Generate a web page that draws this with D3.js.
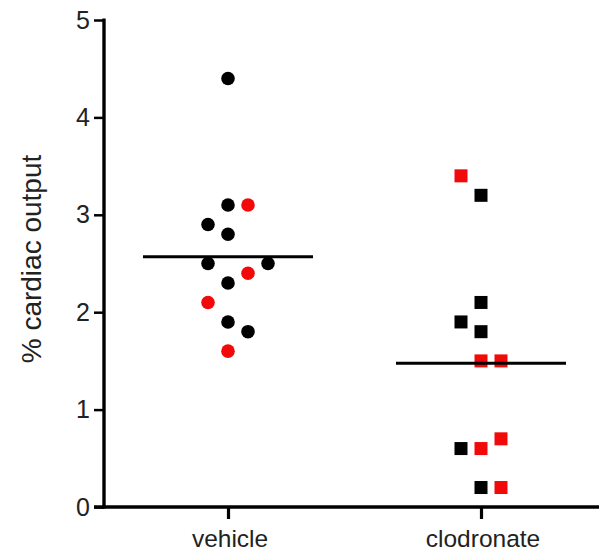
<!DOCTYPE html>
<html>
<head>
<meta charset="utf-8">
<script src="https://cdn.jsdelivr.net/npm/d3@7"></script>
<style>
html,body{margin:0;padding:0;background:#fff;}
svg{display:block;font-family:"Liberation Sans",Arial,sans-serif;}
</style>
</head>
<body>
<svg id="chart" width="599" height="552"></svg>
<script>
// ---- data ----
const categories = ["vehicle", "clodronate"];
const yTicks = [0, 1, 2, 3, 4, 5];
const yTitle = "% cardiac output";

const vehicleValues = [4.4, 3.1, 3.1, 2.9, 2.8, 2.5, 2.5, 2.4, 2.3, 2.1, 1.9, 1.8, 1.6];
const vehicleGroup  = ["k", "k", "r", "k", "k", "k", "k", "r", "k", "r", "k", "k", "r"];
const vehicleColumn = [0, 0, 1, -1, 0, -1, 2, 1, 0, -1, 0, 1, 0];

const clodronateValues = [3.4, 3.2, 2.1, 1.9, 1.8, 1.5, 1.5, 0.7, 0.6, 0.6, 0.2, 0.2];
const clodronateGroup  = ["r", "k", "k", "k", "k", "r", "r", "r", "k", "r", "k", "r"];
const clodronateColumn = [-1, 0, 0, -1, 0, 0, 1, 1, -1, 0, 0, 1];

// ---- layout ----
const svg = d3.select("#chart");
const xLeft = 104, xRight = 599, yTop = 20, yBottom = 507;
const colors = { k: "#000000", r: "#f20a0a" };
const colStep = 20;
const fontFam = "'Liberation Sans', Arial, sans-serif";

const y = d3.scaleLinear().domain([0, 5]).range([yBottom, yTop]);
const x = d3.scalePoint().domain(categories).range([228, 481]);

// y axis
const yAxis = svg.append("g").attr("transform", `translate(${xLeft},0)`)
  .call(d3.axisLeft(y).tickValues(yTicks).tickFormat(d3.format("d")).tickSize(10).tickPadding(4).tickSizeOuter(0));
yAxis.select(".domain").remove();
yAxis.selectAll(".tick line").attr("stroke", "#000").attr("stroke-width", 2.5);
yAxis.selectAll(".tick text").attr("font-size", 25).attr("fill", "#222")
  .attr("font-family", fontFam);
svg.append("line").attr("x1", xLeft).attr("x2", xLeft).attr("y1", y(5) - 1.5).attr("y2", yBottom + 1.5)
  .attr("stroke", "#000").attr("stroke-width", 3.4);

// x axis
const xAxis = svg.append("g").attr("transform", `translate(0,${yBottom})`)
  .call(d3.axisBottom(x).tickSize(12).tickPadding(11).tickSizeOuter(0));
xAxis.select(".domain").remove();
xAxis.selectAll(".tick line").attr("stroke", "#000").attr("stroke-width", 3.2);
xAxis.selectAll(".tick text").attr("font-size", 24.5).attr("fill", "#222")
  .attr("font-family", fontFam)
  .attr("dx", 1.5);
svg.append("line").attr("x1", xLeft - 10).attr("x2", xRight).attr("y1", yBottom).attr("y2", yBottom)
  .attr("stroke", "#000").attr("stroke-width", 3.4);

// y title
svg.append("text")
  .attr("transform", `translate(41,259) rotate(-90)`)
  .attr("text-anchor", "middle")
  .attr("font-size", 28)
  .attr("fill", "#222")
  .attr("font-family", fontFam)
  .text(yTitle);

// points
const vehicle = vehicleValues.map((v, i) => ({ v, g: vehicleGroup[i], c: vehicleColumn[i] }));
const clod = clodronateValues.map((v, i) => ({ v, g: clodronateGroup[i], c: clodronateColumn[i] }));

svg.append("g").selectAll("circle").data(vehicle).join("circle")
  .attr("cx", d => x("vehicle") + d.c * colStep)
  .attr("cy", d => y(d.v))
  .attr("r", 6.8)
  .attr("fill", d => colors[d.g]);

const sq = 13;
svg.append("g").selectAll("rect").data(clod).join("rect")
  .attr("x", d => x("clodronate") + d.c * colStep - sq / 2)
  .attr("y", d => y(d.v) - sq / 2)
  .attr("width", sq).attr("height", sq)
  .attr("fill", d => colors[d.g]);

// mean lines
const halfW = 85;
[[categories[0], d3.mean(vehicleValues)], [categories[1], d3.mean(clodronateValues)]].forEach(([cat, m]) => {
  svg.append("line")
    .attr("x1", x(cat) - halfW).attr("x2", x(cat) + halfW)
    .attr("y1", y(m)).attr("y2", y(m))
    .attr("stroke", "#000").attr("stroke-width", 3);
});
</script>
</body>
</html>
